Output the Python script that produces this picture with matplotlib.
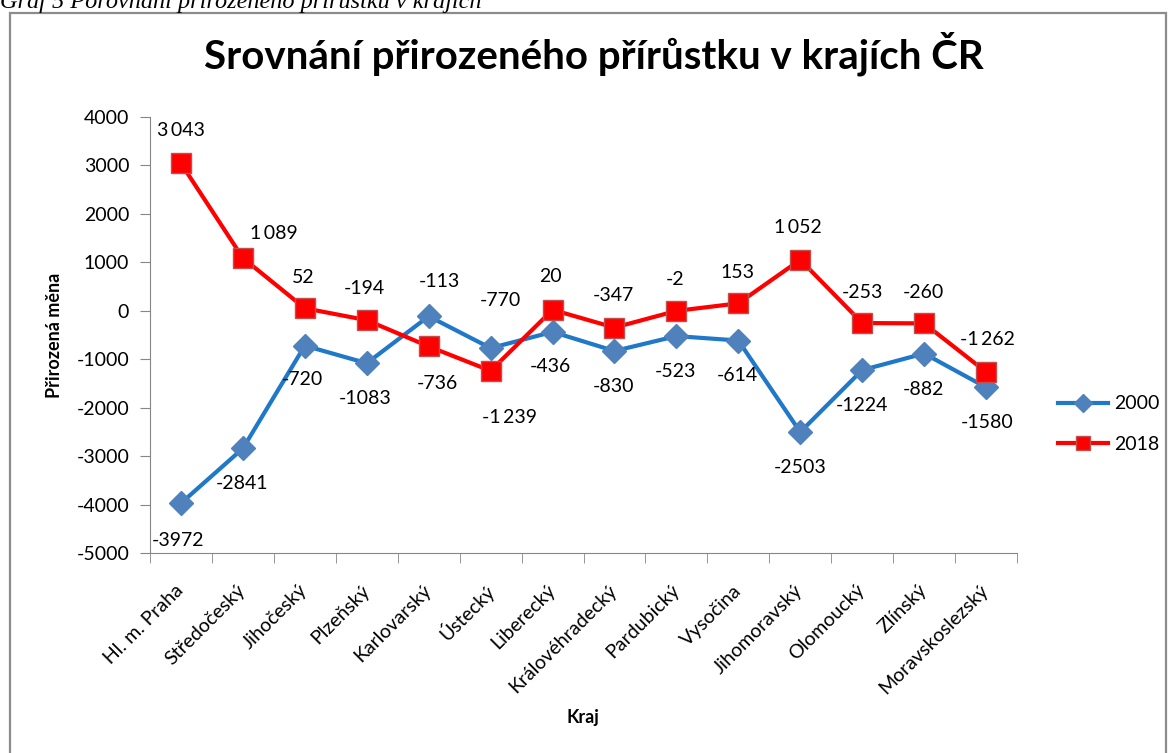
import matplotlib
matplotlib.use("Agg")
import matplotlib.pyplot as plt
from matplotlib.patches import Rectangle
from matplotlib.lines import Line2D

plt.rcParams['font.family'] = ['Lato', 'DejaVu Sans']

kraje = ['Hl. m. Praha', 'Středočeský', 'Jihočeský', 'Plzeňský', 'Karlovarský',
         'Ústecký', 'Liberecký', 'Královéhradecký', 'Pardubický', 'Vysočina',
         'Jihomoravský', 'Olomoucký', 'Zlínský', 'Moravskoslezský']
r2000 = [-3972, -2841, -720, -1083, -113, -770, -436, -830, -523, -614, -2503, -1224, -882, -1580]
r2018 = [3043, 1089, 52, -194, -736, -1239, 20, -347, -2, 153, 1052, -253, -260, -1262]
y_ticks = [-5000, -4000, -3000, -2000, -1000, 0, 1000, 2000, 3000, 4000]

# posun popisků v pixelech (dx, dy nahoru)
off2000 = [(-3, -37), (-1, -35), (-2, -34), (-2, -35), (11, 35), (10, 48), (-2, -35),
           (-1, -36), (-1, -35), (-1, -35), (0, -35), (0, -35), (-1, -36), (1, -35)]
off2018 = [(0, 33), (31, 25), (-2, 31), (-2, 32), (9, -37), (19, -47), (-2, 33),
           (-1, 32), (-1, 31), (-1, 31), (-2, 32), (0, 31), (-1, 31), (1, 32)]

c2000_line = '#1F78C8'
c2000_mark = '#4F81BD'
c2018 = '#FF0000'

fig = plt.figure(figsize=(11.68, 7.53), dpi=100)
W, H = 1168, 753

# rámeček grafu
fig.patches.append(Rectangle((10 / W, -0.05), 1156 / W, 1.05 - 13 / H,
                             transform=fig.transFigure, fill=False,
                             edgecolor='#8C8C8C', linewidth=1.6))

# popisek nad grafem (v originále oříznutý)
fig.text(0, 1 - 8 / H, 'Graf 5 Porovnání přirozeného přírůstku v krajích',
         family='Liberation Serif', style='italic', fontsize=17.5, va='baseline', ha='left')

ax = fig.add_axes([150 / W, 1 - 553 / H, 867 / W, 436 / H])
x = list(range(len(kraje)))

ax.plot(x, r2000, color=c2000_line, linewidth=3, marker='D', markersize=12,
        markerfacecolor=c2000_mark, markeredgecolor=c2000_mark, zorder=3)
ax.plot(x, r2018, color=c2018, linewidth=3, marker='s', markersize=14,
        markerfacecolor=c2018, markeredgecolor='#C0504D', markeredgewidth=1, zorder=4)

def fmt(v, sep):
    s = f'{abs(v):,}'.replace(',', sep)
    return ('-' if v < 0 else '') + s

for i in x:
    ax.annotate(fmt(r2000[i], ''), (i, r2000[i]), xytext=off2000[i],
                textcoords='offset pixels', ha='center', va='center', fontsize=14)
    ax.annotate(fmt(r2018[i], '\u2009'), (i, r2018[i]), xytext=off2018[i],
                textcoords='offset pixels', ha='center', va='center', fontsize=14)

ax.set_xlim(-0.5, len(kraje) - 0.5)
ax.set_ylim(-5000, 4000)
ax.set_yticks(y_ticks)
ax.set_yticklabels([str(t) for t in y_ticks], fontsize=14)
ax.set_xticks(x)
ax.set_xticklabels(kraje, rotation=45, ha='right', va='center',
                   rotation_mode='anchor', fontsize=14)
ax.set_xticks([i - 0.5 for i in range(len(kraje) + 1)], minor=True)
ax.tick_params(axis='x', which='major', length=0, pad=25)
ax.tick_params(axis='x', which='minor', length=7, color='#868686')
ax.tick_params(axis='y', length=7, color='#868686', pad=8)

for s in ['top', 'right']:
    ax.spines[s].set_visible(False)
for s in ['left', 'bottom']:
    ax.spines[s].set_color('#868686')

fig.text(55 / W, 1 - 335 / H, 'Přirozená měna', rotation=90, fontsize=13,
         fontweight='bold', ha='center', va='center')
fig.text(583 / W, 1 - 718 / H, 'Kraj', fontsize=13, fontweight='bold',
         ha='center', va='center')
fig.text(594 / W, 1 - 68 / H, 'Srovnání přirozeného přírůstku v krajích ČR',
         fontsize=29, fontweight='bold', ha='center', va='baseline')

handles = [Line2D([], [], color=c2000_line, linewidth=3, marker='D', markersize=9,
                  markerfacecolor=c2000_mark, markeredgecolor=c2000_mark),
           Line2D([], [], color=c2018, linewidth=3, marker='s', markersize=10,
                  markerfacecolor=c2018, markeredgecolor='#C0504D')]
fig.legend(handles, ['2000', '2018'], loc='center left',
           bbox_to_anchor=(1040 / W, 1 - 424 / H), frameon=False, fontsize=14,
           handlelength=2.6, handletextpad=0.3, labelspacing=1.2)

fig.savefig('out.png', dpi=100)
